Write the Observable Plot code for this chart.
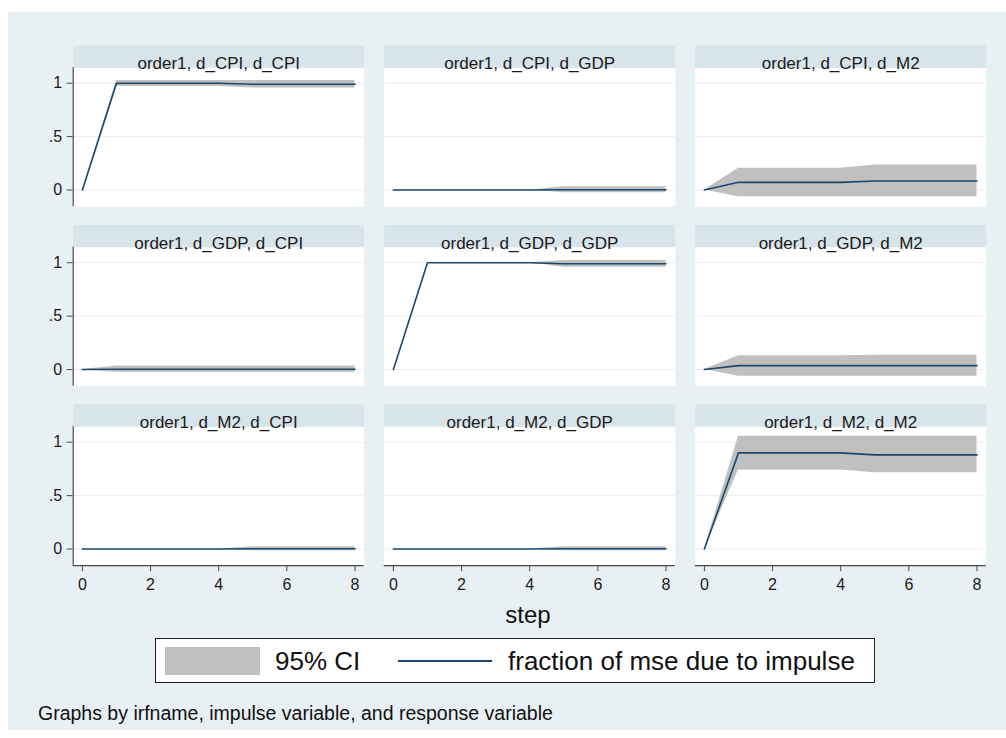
<!DOCTYPE html>
<html>
<head>
<meta charset="utf-8">
<script src="https://cdn.jsdelivr.net/npm/d3@7"></script>
<script src="https://cdn.jsdelivr.net/npm/@observablehq/plot@0.6"></script>
<style>
  html, body { margin: 0; padding: 0; background: #ffffff; width: 1006px; height: 738px; overflow: hidden;
    font-family: "Liberation Sans", Arial, sans-serif; }
  #bg { position: absolute; left: 8px; top: 12px; width: 998px; height: 718px; background: #e9f0f3; }
  #chart { position: absolute; left: 0; top: 0; }
  .abs { position: absolute; white-space: nowrap; color: #111; }
  #xtitle { left: 0; width: 1056px; text-align: center; top: 601px; font-size: 24px; line-height: 28px; }
  #legend { left: 155px; top: 638px; width: 720px; height: 45px; background: #fff; border: 1.5px solid #222; box-sizing: border-box; }
  #swatch { left: 165px; top: 647px; width: 95px; height: 28px; }
  #ciLabel { left: 275px; top: 646px; font-size: 26px; line-height: 30px; }
  #lineKey { left: 398px; top: 660px; width: 94px; height: 2px; }
  #lineLabel { left: 508px; top: 646px; font-size: 26px; line-height: 30px; }
  #caption { left: 38px; top: 701px; font-size: 19.5px; line-height: 24px; }
</style>
</head>
<body>
<div id="bg"></div>
<div id="chart"></div>
<div id="xtitle" class="abs"></div>
<div id="legend" class="abs"></div>
<div id="swatch" class="abs"></div>
<div id="ciLabel" class="abs"></div>
<div id="lineKey" class="abs"></div>
<div id="lineLabel" class="abs"></div>
<div id="caption" class="abs"></div>
<script>
// ---------------- data ----------------
const irfname = "order1";
const impulses = ["d_CPI", "d_GDP", "d_M2"];
const responses = ["d_CPI", "d_GDP", "d_M2"];
const steps = [0, 1, 2, 3, 4, 5, 6, 7, 8];
const xTicks = [0, 2, 4, 6, 8];
const yTicks = [0, 0.5, 1];

// impulse d_CPI
const fevd_CPI_CPI = [0, 1.000, 1.000, 1.000, 1.000, 0.990, 0.990, 0.990, 0.990];
const lo_CPI_CPI   = [0, 0.970, 0.970, 0.970, 0.970, 0.955, 0.955, 0.955, 0.955];
const hi_CPI_CPI   = [0, 1.025, 1.025, 1.025, 1.025, 1.025, 1.025, 1.025, 1.025];
const fevd_CPI_GDP = [0, 0, 0, 0, 0, 0.003, 0.003, 0.003, 0.003];
const lo_CPI_GDP   = [0, 0, 0, 0, 0, -0.025, -0.025, -0.025, -0.025];
const hi_CPI_GDP   = [0, 0, 0, 0, 0, 0.031, 0.031, 0.031, 0.031];
const fevd_CPI_M2  = [0, 0.072, 0.072, 0.072, 0.072, 0.084, 0.084, 0.084, 0.084];
const lo_CPI_M2    = [0, -0.062, -0.062, -0.062, -0.062, -0.063, -0.063, -0.063, -0.063];
const hi_CPI_M2    = [0, 0.203, 0.203, 0.203, 0.203, 0.234, 0.234, 0.234, 0.234];
// impulse d_GDP
const fevd_GDP_CPI = [0, 0.002, 0.002, 0.002, 0.002, 0.002, 0.002, 0.002, 0.002];
const lo_GDP_CPI   = [0, -0.028, -0.028, -0.028, -0.028, -0.028, -0.028, -0.028, -0.028];
const hi_GDP_CPI   = [0, 0.032, 0.032, 0.032, 0.032, 0.032, 0.032, 0.032, 0.032];
const fevd_GDP_GDP = [0, 1.000, 1.000, 1.000, 1.000, 0.990, 0.990, 0.990, 0.990];
const lo_GDP_GDP   = [0, 1.000, 1.000, 1.000, 1.000, 0.957, 0.957, 0.957, 0.957];
const hi_GDP_GDP   = [0, 1.000, 1.000, 1.000, 1.000, 1.020, 1.020, 1.020, 1.020];
const fevd_GDP_M2  = [0, 0.037, 0.037, 0.037, 0.037, 0.037, 0.037, 0.037, 0.037];
const lo_GDP_M2    = [0, -0.062, -0.062, -0.062, -0.062, -0.062, -0.062, -0.062, -0.062];
const hi_GDP_M2    = [0, 0.128, 0.128, 0.128, 0.128, 0.134, 0.134, 0.134, 0.134];
// impulse d_M2
const fevd_M2_CPI  = [0, 0, 0, 0, 0, 0.002, 0.002, 0.002, 0.002];
const lo_M2_CPI    = [0, 0, 0, 0, 0, -0.016, -0.016, -0.016, -0.016];
const hi_M2_CPI    = [0, 0, 0, 0, 0, 0.022, 0.022, 0.022, 0.022];
const fevd_M2_GDP  = [0, 0, 0, 0, 0, 0.002, 0.002, 0.002, 0.002];
const lo_M2_GDP    = [0, 0, 0, 0, 0, -0.016, -0.016, -0.016, -0.016];
const hi_M2_GDP    = [0, 0, 0, 0, 0, 0.022, 0.022, 0.022, 0.022];
const fevd_M2_M2   = [0, 0.900, 0.900, 0.900, 0.900, 0.881, 0.881, 0.881, 0.881];
const lo_M2_M2     = [0, 0.740, 0.740, 0.740, 0.740, 0.713, 0.713, 0.713, 0.713];
const hi_M2_M2     = [0, 1.056, 1.056, 1.056, 1.056, 1.056, 1.056, 1.056, 1.056];

const xTitle = "step";
const ciText = "95% CI";
const lineText = "fraction of mse due to impulse";
const captionText = "Graphs by irfname, impulse variable, and response variable";

// ---------------- table ----------------
const seriesByPanel = {
  "d_CPI|d_CPI": [fevd_CPI_CPI, lo_CPI_CPI, hi_CPI_CPI],
  "d_CPI|d_GDP": [fevd_CPI_GDP, lo_CPI_GDP, hi_CPI_GDP],
  "d_CPI|d_M2":  [fevd_CPI_M2,  lo_CPI_M2,  hi_CPI_M2],
  "d_GDP|d_CPI": [fevd_GDP_CPI, lo_GDP_CPI, hi_GDP_CPI],
  "d_GDP|d_GDP": [fevd_GDP_GDP, lo_GDP_GDP, hi_GDP_GDP],
  "d_GDP|d_M2":  [fevd_GDP_M2,  lo_GDP_M2,  hi_GDP_M2],
  "d_M2|d_CPI":  [fevd_M2_CPI,  lo_M2_CPI,  hi_M2_CPI],
  "d_M2|d_GDP":  [fevd_M2_GDP,  lo_M2_GDP,  hi_M2_GDP],
  "d_M2|d_M2":   [fevd_M2_M2,   lo_M2_M2,   hi_M2_M2]
};
const rows = [];
const panels = [];
for (const imp of impulses) {
  for (const res of responses) {
    panels.push({impulse: imp, response: res, label: `${irfname}, ${imp}, ${res}`});
    const [f, lo, hi] = seriesByPanel[`${imp}|${res}`];
    steps.forEach((s, i) => rows.push({impulse: imp, response: res, step: s, fevd: f[i], lo: lo[i], hi: hi[i]}));
  }
}
const leftPanels = panels.filter(p => p.response === responses[0]);
const bottomPanels = panels.filter(p => p.impulse === impulses[impulses.length - 1]);

// ---------------- layout ----------------
const W = 1006, H = 600;
const ML = 72.7, MR = 20.3, MT = 45, MB = 34.8;
const X_DOMAIN = [-0.27, 8.27];
const Y_DOMAIN = [-0.156, 1.353];
const PANEL_H = 161.2, STRIP_H = 22.2;
const yPlotTop = Y_DOMAIN[0] + (Y_DOMAIN[1] - Y_DOMAIN[0]) * (PANEL_H - STRIP_H) / PANEL_H;

const STRIP = "#d7e4ea", BAND = "#c0c0c0", NAVY = "#1a476f", AXIS = "#4a4a4a";
const FONT = '"Liberation Sans", Arial, sans-serif';
const TICK_FONT = 16;
const yFmt = d => d === 0.5 ? ".5" : String(d);

const chart = Plot.plot({
  width: W, height: H,
  marginLeft: ML, marginRight: MR, marginTop: MT, marginBottom: MB,
  facet: {marginTop: 0, marginRight: 0, marginBottom: 0, marginLeft: 0},
  style: {background: "transparent", color: "#1a1a1a", fontFamily: FONT, fontSize: TICK_FONT + "px", overflow: "visible"},
  fx: {domain: responses, paddingInner: 20 / 311, paddingOuter: 0, round: false, axis: null, label: null},
  fy: {domain: impulses, paddingInner: 18.3 / 179.5, paddingOuter: 0, round: false, axis: null, label: null},
  x: {domain: X_DOMAIN},
  y: {domain: Y_DOMAIN},
  marks: [
    Plot.frame({fill: "white", insetTop: STRIP_H}),
    Plot.frame({fill: STRIP, insetBottom: PANEL_H - STRIP_H}),
    Plot.ruleY(yTicks, {stroke: "#ededed", strokeWidth: 1}),
    Plot.areaY(rows, {fx: "response", fy: "impulse", x: "step", y1: "lo", y2: "hi", fill: BAND, curve: "linear"}),
    Plot.lineY(rows, {fx: "response", fy: "impulse", x: "step", y: "fevd", stroke: NAVY, strokeWidth: 1.6, curve: "linear"}),
    Plot.ruleX(leftPanels, {fx: "response", fy: "impulse", x: () => X_DOMAIN[0], y1: () => yPlotTop, y2: () => Y_DOMAIN[0], stroke: AXIS, strokeWidth: 1.2}),
    Plot.ruleY(bottomPanels, {fx: "response", fy: "impulse", y: () => Y_DOMAIN[0], stroke: AXIS, strokeWidth: 1.2}),
    Plot.axisX(xTicks, {anchor: "bottom", tickSize: 6, tickPadding: 7, fontSize: TICK_FONT, label: null, stroke: AXIS, fill: "#1a1a1a"}),
    Plot.axisY(yTicks, {anchor: "left", tickSize: 6, tickPadding: 5, fontSize: TICK_FONT, tickFormat: yFmt, label: null, stroke: AXIS, fill: "#1a1a1a"}),
    Plot.text(panels, {fx: "response", fy: "impulse", text: "label", frameAnchor: "top", dy: STRIP_H / 2 + 0.5, fontSize: 17, fill: "#1a1a1a"})
  ]
});
document.getElementById("chart").appendChild(chart);

document.getElementById("xtitle").textContent = xTitle;
document.getElementById("swatch").style.background = BAND;
document.getElementById("ciLabel").textContent = ciText;
document.getElementById("lineKey").style.background = NAVY;
document.getElementById("lineLabel").textContent = lineText;
document.getElementById("caption").textContent = captionText;
</script>
</body>
</html>
